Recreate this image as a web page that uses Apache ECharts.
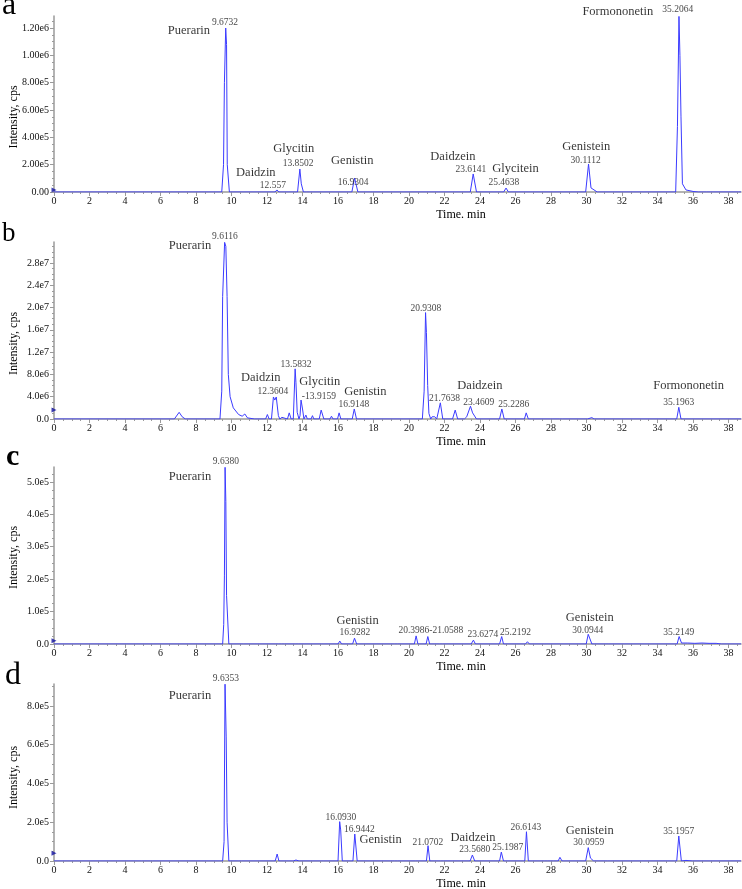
<!DOCTYPE html>
<html><head><meta charset="utf-8">
<script src="https://cdn.jsdelivr.net/npm/echarts@6/dist/echarts.min.js"></script>
<style>html,body{margin:0;padding:0;background:#fff}#c{width:742px;height:889px}</style>
</head><body><div id="c"></div>
<script>
// ---- tick labels ----
const xTicks = [0,2,4,6,8,10,12,14,16,18,20,22,24,26,28,30,32,34,36,38];
const xTickLabels = ['0','2','4','6','8','10','12','14','16','18','20','22','24','26','28','30','32','34','36','38'];
const yTicksA = [0,2e5,4e5,6e5,8e5,1e6,1.2e6];
const yTickLabelsA = ['0.00','2.00e5','4.00e5','6.00e5','8.00e5','1.00e6','1.20e6'];
const yTicksB = [0,4e6,8e6,1.2e7,1.6e7,2e7,2.4e7,2.8e7];
const yTickLabelsB = ['0.0','4.0e6','8.0e6','1.2e7','1.6e7','2.0e7','2.4e7','2.8e7'];
const yTicksC = [0,1e5,2e5,3e5,4e5,5e5];
const yTickLabelsC = ['0.0','1.0e5','2.0e5','3.0e5','4.0e5','5.0e5'];
const yTicksD = [0,2e5,4e5,6e5,8e5];
const yTickLabelsD = ['0.0','2.0e5','4.0e5','6.0e5','8.0e5'];
const yMax = [1.288e6, 3.177e7, 5.46e5, 9.13e5];
const xMax = 38.7;

// ---- chromatogram traces [time (min), intensity (cps)] ----
const traceA = [
[0,0],[9.45,0],[9.55,2e5],[9.6,8e5],[9.6732,1.2e6],[9.72,1.08e6],[9.76,2e5],[9.88,0],
[12.45,0],[12.557,1.5e4],[12.67,0],
[13.72,0],[13.8502,1.68e5],[13.93,6e4],[14.05,0],
[14.22,0],[14.3,5e3],[14.38,0],
[16.78,0],[16.9304,1.02e5],[17.12,0],
[23.45,0],[23.6141,1.32e5],[23.8,0],
[25.33,0],[25.4638,2.9e4],[25.6,0],
[29.95,0],[30.1112,2.05e5],[30.25,3e4],[30.6,0],
[35.02,0],[35.12,4.8e5],[35.2064,1.285e6],[35.26,1.0e6],[35.32,5.5e5],[35.4,6e4],[35.6,1.5e4],[36.0,4e3],[36.3,0],[36.55,0],[36.65,5e3],[36.75,0],[38.55,0],[38.62,6e3],[38.7,0]
];
const traceB = [
[0,0],[6.6,0],[6.68,1.5e5],[6.78,0],[6.88,3e5],[7.05,1.2e6],[7.22,4e5],[7.4,0],
[9.35,0],[9.45,5e6],[9.5,2.2e7],[9.6116,3.17e7],[9.68,3.1e7],[9.75,2.2e7],[9.82,8e6],[9.92,4e6],[10.1,2e6],[10.4,8e5],[10.6,5e5],
[10.75,9e5],[10.9,2e5],[11.3,0],
[11.92,0],[12.02,8e5],[12.12,0],
[12.25,0],[12.3604,3.95e6],[12.44,3.4e6],[12.52,3.95e6],[12.64,6e5],[12.72,0],
[12.78,0],[12.84,3e5],[12.92,0],
[13.15,0],[13.25,1.1e6],[13.36,0],
[13.48,0],[13.5832,9e6],[13.63,6.5e6],[13.7,1.2e6],[13.8,0],
[13.86,6e5],[13.9159,3.4e6],[14.0,1.8e6],[14.08,0],
[14.12,0],[14.19,7e5],[14.27,0],
[14.48,0],[14.56,6e5],[14.64,0],
[14.94,0],[15.05,1.6e6],[15.2,0],
[15.55,0],[15.63,5e5],[15.72,0],
[15.97,0],[16.06,1.1e6],[16.16,0],
[16.8,0],[16.9148,1.8e6],[17.04,0],
[20.75,0],[20.85,5e6],[20.9308,1.91e7],[20.98,1.55e7],[21.05,6e6],[21.12,1e6],[21.22,0],
[21.3,4e5],[21.45,4e5],[21.56,0],
[21.66,0],[21.7638,2.9e6],[21.9,0],
[22.45,0],[22.6,1.6e6],[22.74,0],
[23.12,0],[23.25,4e5],[23.32,3e5],[23.4609,2.3e6],[23.58,1.1e6],[23.8,0],
[25.1,0],[25.2286,1.8e6],[25.36,0],
[26.5,0],[26.6,1.1e6],[26.72,0],
[27.96,0],[28.03,2.5e5],[28.1,0],
[28.48,0],[28.56,2.5e5],[28.64,0],
[30.05,0],[30.15,2.5e5],[30.3,2.5e5],[30.42,0],
[35.08,0],[35.1963,2.1e6],[35.32,0],
[38.7,0]
];
const traceC = [
[0,0],[9.5,0],[9.56,6e4],[9.6,2.1e5],[9.638,5.45e5],[9.68,4.4e5],[9.72,1.5e5],[9.85,0],
[10.68,0],[10.75,3e3],[10.82,0],
[12.46,0],[12.55,6e3],[12.64,0],
[12.82,0],[12.9,3e3],[12.98,0],
[13.62,0],[13.7,4e3],[13.78,0],
[15.05,0],[15.12,3e3],[15.2,0],
[16.0,0],[16.1,9e3],[16.2,0],
[16.82,0],[16.9282,1.8e4],[17.05,0],
[19.18,0],[19.26,6e3],[19.34,0],
[20.3,0],[20.3986,2.5e4],[20.5,0],
[20.96,0],[21.0588,2.3e4],[21.16,0],
[21.72,0],[21.8,3e3],[21.88,0],
[23.5,0],[23.6274,1.2e4],[23.74,0],
[25.1,0],[25.2192,2.3e4],[25.32,0],
[26.56,0],[26.67,7e3],[26.78,0],
[28.52,0],[28.6,3e3],[28.68,0],
[29.98,0],[30.0944,3.0e4],[30.3,0],
[31.22,0],[31.3,3e3],[31.38,0],
[35.1,0],[35.2149,2.3e4],[35.35,3e3],[35.7,3e3],[36.1,2e3],[36.5,3e3],[36.9,2e3],[37.3,2e3],[37.6,0],[38.7,0]
];
const traceD = [
[0,0],[0.68,0],[0.76,4e3],[0.84,0],
[4.94,0],[5.0,3e3],[5.06,0],[5.42,0],[5.48,3e3],[5.54,0],
[9.5,0],[9.58,1e5],[9.6353,9.12e5],[9.7,6.4e5],[9.75,2e5],[9.85,0],
[10.4,0],[10.47,6e3],[10.55,0],
[12.46,0],[12.57,3.6e4],[12.67,0],
[13.48,0],[13.57,9e3],[13.63,5e3],[13.7,9e3],[13.8,0],
[15.0,0],[15.08,7e3],[15.16,0],
[16.0,0],[16.093,2.03e5],[16.15,1.6e5],[16.24,0],
[16.84,0],[16.9442,1.39e5],[17.08,0],
[19.18,0],[19.26,1.0e4],[19.34,0],
[20.36,0],[20.44,9e3],[20.52,0],
[20.98,0],[21.0702,7.9e4],[21.17,0],
[21.77,0],[21.85,7e3],[21.93,0],
[23.44,0],[23.568,3.1e4],[23.7,0],
[25.1,0],[25.1987,4.6e4],[25.32,0],
[26.52,0],[26.6143,1.51e5],[26.72,0],
[27.64,0],[27.72,6e3],[27.8,0],
[27.95,0],[28.05,1.0e4],[28.14,0],
[28.4,0],[28.5,1.9e4],[28.62,0],
[29.95,0],[30.0959,6.9e4],[30.22,1.5e4],[30.4,0],
[31.17,0],[31.25,3e3],[31.33,0],
[35.08,0],[35.1957,1.29e5],[35.34,0],[35.6,3e3],[35.95,0],
[38.7,0]
];

// ---- compound name annotations [text, time, intensity] ----
const namesA = [['Puerarin',7.6,1.178e6],['Daidzin',11.37,1.39e5],['Glycitin',13.5,3.15e5],['Genistin',16.8,2.27e5],['Daidzein',22.47,2.56e5],['Glycitein',26.0,1.68e5],['Genistein',29.98,3.29e5],['Formononetin',31.76,1.317e6]];
const namesB = [['Puerarin',7.66,3.105e7],['Daidzin',11.65,7.36e6],['Glycitin',14.97,6.64e6],['Genistin',17.54,4.85e6],['Daidzein',23.99,5.92e6],['Formononetin',35.75,5.92e6]];
const namesC = [['Puerarin',7.66,5.15e5],['Genistin',17.1,7.1e4],['Genistein',30.18,8.0e4]];
const namesD = [['Puerarin',7.66,8.52e5],['Genistin',18.4,1.08e5],['Daidzein',23.6,1.19e5],['Genistein',30.18,1.55e5]];

// ---- retention time annotations [text, time, intensity] ----
const rtA = [['9.6732',9.63,1.237e6],['12.557',12.33,4.4e4],['13.8502',13.75,2.12e5],['16.9304',16.85,7.3e4],['23.6141',23.48,1.68e5],['25.4638',25.34,6.6e4],['30.1112',29.95,2.34e5],['35.2064',35.14,1.332e6]];
const rtB = [['9.6116',9.63,3.28e7],['12.3604',12.33,4.85e6],['13.5832',13.63,9.87e6],['-13.9159',14.92,3.95e6],['16.9148',16.89,2.69e6],['20.9308',20.95,1.99e7],['21.7638',22.0,3.59e6],['23.4609',23.93,3.05e6],['25.2286',25.9,2.69e6],['35.1963',35.19,3.05e6]];
const rtC = [['9.6380',9.68,5.62e5],['16.9282',16.95,3.4e4],['20.3986',20.27,4.3e4],['-21.0588',22.1,4.3e4],['23.6274',24.16,2.8e4],['25.2192',26.0,3.4e4],['30.0944',30.07,4.3e4],['35.2149',35.19,3.4e4]];
const rtD = [['9.6353',9.68,9.39e5],['16.0930',16.16,2.22e5],['16.9442',17.2,1.6e5],['21.0702',21.06,9.8e4],['23.5680',23.7,5.7e4],['25.1987',25.56,7.2e4],['26.6143',26.58,1.75e5],['30.0959',30.12,9.3e4],['35.1957',35.19,1.5e5]];

// ---- start markers on y axis [time, intensity] ----
const markA = [[0,1.5e4]];
const markB = [[0,1.6e6]];
const markC = [[0,1.0e4]];
const markD = [[0,4e4]];

const FONT = '"Liberation Serif", "Times New Roman", serif';
const LINE = '#3b3bff';
const AXIS = '#9a9a9a';

const panels = [
  {top:16, height:176, trace:traceA, names:namesA, rt:rtA, mark:markA, yt:yTicksA, yl:yTickLabelsA, yi:2e5, namePad:26},
  {top:242, height:177, trace:traceB, names:namesB, rt:rtB, mark:markB, yt:yTicksB, yl:yTickLabelsB, yi:4e6, namePad:26},
  {top:467, height:177, trace:traceC, names:namesC, rt:rtC, mark:markC, yt:yTicksC, yl:yTickLabelsC, yi:1e5, namePad:4},
  {top:684, height:177, trace:traceD, names:namesD, rt:rtD, mark:markD, yt:yTicksD, yl:yTickLabelsD, yi:2e5, namePad:10}
];

function lookup(ticks, labels) {
  return function (v) {
    const i = ticks.findIndex(t => Math.abs(t - v) <= 1e-6 * Math.max(1, Math.abs(t)));
    return i < 0 ? '' : labels[i];
  };
}

const grid = [], xAxis = [], yAxis = [], series = [];
panels.forEach((p, k) => {
  grid.push({left:54, right:1, top:p.top, height:p.height, containLabel:false, outerBoundsMode:'none'});
  xAxis.push({
    type:'value', gridIndex:k, min:0, max:xMax, interval:2,
    name:'Time. min', nameLocation:'middle', nameGap:17, nameMoveOverlap:false,
    nameTextStyle:{fontFamily:FONT, fontSize:12, color:'#000', padding:[0,0,0,127]},
    axisLine:{show:true, onZero:false, lineStyle:{color:AXIS, width:1.5}},
    axisTick:{show:true, length:4, lineStyle:{color:AXIS}, customValues:xTicks},
    minorTick:{show:true, splitNumber:4, length:2, lineStyle:{color:AXIS}},
    splitLine:{show:false},
    axisLabel:{fontFamily:FONT, fontSize:10, color:'#111', margin:4, customValues:xTicks, formatter:lookup(xTicks, xTickLabels)}
  });
  yAxis.push({
    type:'value', gridIndex:k, min:0, max:yMax[k], interval:p.yi,
    name:'Intensity, cps', nameLocation:'middle', nameGap:34, nameMoveOverlap:false,
    nameTextStyle:{fontFamily:FONT, fontSize:12, color:'#000', padding:[0,p.namePad,0,0]},
    axisLine:{show:true, onZero:false, lineStyle:{color:AXIS, width:1.5}},
    axisTick:{show:true, length:4, lineStyle:{color:AXIS}, customValues:p.yt},
    minorTick:{show:true, splitNumber:4, length:2, lineStyle:{color:AXIS}},
    splitLine:{show:false},
    axisLabel:{fontFamily:FONT, fontSize:10, color:'#111', margin:5, customValues:p.yt, formatter:lookup(p.yt, p.yl)}
  });
  series.push({
    type:'line', xAxisIndex:k, yAxisIndex:k, data:p.trace, showSymbol:false, symbol:'none',
    lineStyle:{color:LINE, width:1}, silent:true, z:2
  });
  series.push({
    type:'scatter', xAxisIndex:k, yAxisIndex:k, clip:false, symbolSize:1, itemStyle:{color:'rgba(0,0,0,0)'},
    data:p.names.map(d => ({name:d[0], value:[d[1], d[2]]})),
    label:{show:true, position:'inside', formatter:'{b}', fontFamily:FONT, fontSize:12.5, color:'#000'}, z:3
  });
  series.push({
    type:'scatter', xAxisIndex:k, yAxisIndex:k, clip:false, symbolSize:1, itemStyle:{color:'rgba(0,0,0,0)'},
    data:p.rt.map(d => ({name:d[0], value:[d[1], d[2]]})),
    label:{show:true, position:'inside', formatter:'{b}', fontFamily:FONT, fontSize:9.5, color:'#111'}, z:3
  });
  series.push({
    type:'scatter', xAxisIndex:k, yAxisIndex:k, clip:false, symbol:'triangle', symbolRotate:-90, symbolSize:5,
    itemStyle:{color:'#1010a0'}, data:p.mark, z:4
  });
});

const chart = echarts.init(document.getElementById('c'), null, {renderer:'canvas'});
chart.setOption({
  animation:false,
  backgroundColor:'#fff',
  grid, xAxis, yAxis, series,
  graphic:[
    {type:'text', left:2, top:-10, style:{text:'a', font:'32px ' + FONT, fill:'#000'}},
    {type:'text', left:2, top:220, style:{text:'b', font:'27px ' + FONT, fill:'#000'}},
    {type:'text', left:6, top:442, style:{text:'c', font:'bold 30px ' + FONT, fill:'#000'}},
    {type:'text', left:5, top:660, style:{text:'d', font:'32px ' + FONT, fill:'#000'}}
  ]
});
</script>
</body></html>
